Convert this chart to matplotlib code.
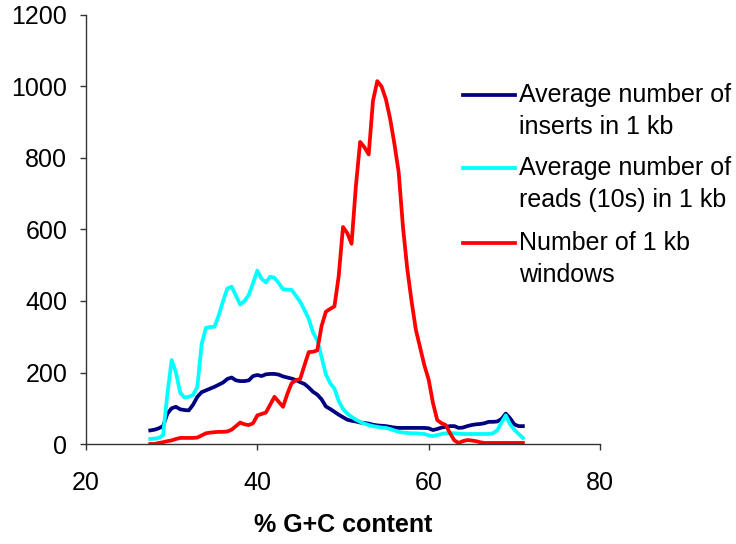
import matplotlib
matplotlib.use("Agg")
import matplotlib.pyplot as plt
from matplotlib.lines import Line2D
import numpy as np

plt.rcParams['font.family'] = ['Liberation Sans', 'DejaVu Sans']

# % G+C content, 0.5 steps
gc = np.arange(27.5, 71.01, 0.5)

inserts = [38, 40, 44, 50, 85, 100, 104, 97, 95, 94,
           110, 132, 145, 150, 155, 160, 166, 172, 182, 186,
           178, 176, 176, 178, 190, 193, 190, 195, 196, 196,
           194, 189, 186, 183, 179, 173, 168, 158, 146, 138,
           125, 105, 98, 90, 82, 75, 68, 65, 63, 60,
           59, 57, 54, 52, 51, 50, 48, 46, 45, 45,
           45, 45, 45, 45, 45, 44, 39, 42, 46, 48,
           50, 50, 45, 46, 50, 53, 55, 56, 58, 62,
           62, 63, 70, 85, 72, 55, 50, 50]

reads = [14, 15, 17, 25, 140, 235, 200, 143, 130, 132,
         137, 160, 280, 325, 327, 328, 360, 400, 435, 440,
         415, 390, 400, 417, 450, 485, 462, 452, 468, 465,
         450, 433, 432, 431, 415, 398, 375, 350, 312, 290,
         243, 195, 170, 155, 120, 98, 85, 76, 68, 62,
         57, 53, 50, 48, 46, 45, 42, 38, 34, 32,
         31, 30, 30, 29, 28, 24, 22, 25, 28, 30,
         30, 30, 29, 28, 28, 28, 28, 28, 28, 28,
         30, 38, 60, 80, 55, 40, 28, 17]

windows = [0, 0, 3, 5, 8, 10, 14, 17, 17, 17,
           17, 18, 24, 30, 32, 33, 34, 34, 35, 40,
           50, 60, 55, 53, 58, 80, 84, 88, 110, 132,
           118, 104, 140, 170, 178, 182, 220, 257, 258, 262,
           330, 370, 378, 385, 470, 607, 590, 560, 720, 845,
           830, 810, 960, 1015, 1000, 965, 910, 840, 760, 607,
           490, 400, 320, 270, 220, 180, 115, 67, 58, 53,
           30, 10, 3, 8, 11, 10, 8, 5, 3, 3,
           3, 3, 3, 3, 3, 3, 3, 3]

labels = ["Average number of\ninserts in 1 kb",
          "Average number of\nreads (10s) in 1 kb",
          "Number of 1 kb\nwindows"]
colors = ['#000080', '#00FFFF', '#FF0000']

fig = plt.figure(figsize=(7.36, 5.44), dpi=100)
ax = fig.add_axes([86/736, 1-444/544, (600-86)/736, (444-15)/544])

for series, c in zip([inserts, reads, windows], colors):
    ax.plot(gc, series, color=c, lw=2.7)

ax.set_xlim(20, 80)
ax.set_ylim(0, 1200)
ax.set_xticks([20, 40, 60, 80])
ax.set_yticks(range(0, 1201, 200))
ax.spines['top'].set_visible(False)
ax.spines['right'].set_visible(False)
for s in ['left', 'bottom']:
    ax.spines[s].set_color('#333333')
    ax.spines[s].set_linewidth(1)
ax.tick_params(direction='out', length=4.5, width=1, color='#333333', labelsize=18)
ax.tick_params(axis='x', pad=15)
ax.tick_params(axis='y', pad=9)
ax.set_xlabel("% G+C content", fontsize=18, fontweight='bold', labelpad=13)

# legend drawn by hand so the handle sits on the first text line
entry_y = [95, 168, 243]
for lab, c, ypx in zip(labels, colors, entry_y):
    y = 1 - ypx/544
    fig.add_artist(Line2D([463/736, 515/736], [y, y], color=c, lw=2.7))
    for i, line in enumerate(lab.split("\n")):
        fig.text(519/736, 1 - (ypx + 32*i)/544, line, fontsize=18, va='center')

fig.savefig("out.png", dpi=100)
